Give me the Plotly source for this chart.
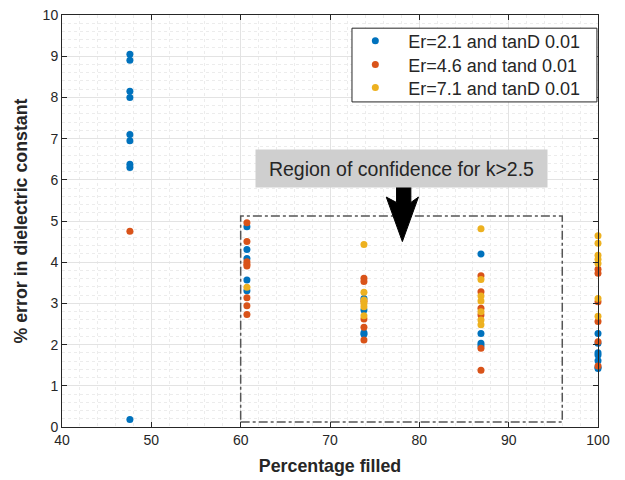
import plotly.graph_objects as go

# Fill levels (percentage filled) where measurements were taken
fill_levels = [47.6, 60.7, 73.8, 86.9, 100.0]
f1, f2, f3, f4, f5 = fill_levels

# % error in dielectric constant per fill level, per material
er21_x = [f1] * 9 + [f2] * 5 + [f3] * 4 + [f4] * 4 + [f5] * 7
er21_y = [9.05, 8.9, 8.15, 8.0, 7.1, 6.95, 6.38, 6.3, 0.18,
          4.86, 4.31, 4.09, 3.57, 3.31,
          3.12, 2.84, 2.29, 2.25,
          4.2, 2.27, 2.03, 1.97,
          2.27, 2.03, 1.8, 1.75, 1.61, 1.45, 1.42]

er46_x = [f1] * 1 + [f2] * 8 + [f3] * 6 + [f4] * 6 + [f5] * 6
er46_y = [4.75,
          4.96, 4.5, 4.01, 3.91, 3.14, 2.94, 2.73, 3.95,
          3.61, 3.53, 3.05, 2.62, 2.42, 2.11,
          3.67, 3.28, 2.88, 2.72, 1.91, 1.38,
          3.83, 3.73, 3.04, 2.56, 2.07, 1.48]

er71_x = [f2] * 1 + [f3] * 6 + [f4] * 7 + [f5] * 7
er71_y = [3.39,
          4.43, 3.27, 3.0, 2.92, 2.7, 3.08,
          4.81, 3.58, 3.18, 3.06, 2.8, 2.6, 2.48,
          4.64, 4.46, 4.17, 4.07, 3.97, 3.12, 2.69]

series = [
    ("Er=2.1 and tanD 0.01", er21_x, er21_y, "#0072BD"),
    ("Er=4.6 and tand 0.01", er46_x, er46_y, "#D95319"),
    ("Er=7.1 and tanD 0.01", er71_x, er71_y, "#EDB120"),
]

FONT = "Liberation Sans, Arial, sans-serif"
TXT = "#262626"

# one legend per series so rows can be spaced like a MATLAB legend
legend_ids = ["legend", "legend2", "legend3"]
legend_rows = [0.937, 0.879, 0.823]

fig = go.Figure()
for (name, xs, ys, col), lid in zip(series, legend_ids):
    fig.add_trace(go.Scatter(
        x=xs, y=ys, mode="markers", name=name, legend=lid,
        cliponaxis=False,
        marker=dict(size=7, color=col, line=dict(width=0)),
    ))

# Dash-dot region of confidence
fig.add_shape(type="rect", x0=60, x1=96, y0=0.12, y1=5.12, xref="x", yref="y",
              line=dict(color="#555555", width=1.5, dash="dashdot"))

# Thick downward arrow pointing into the region
fig.add_shape(type="path", xref="x", yref="y",
              path="M 77.45 5.87 L 79.05 5.87 L 79.05 5.45 L 79.9 5.58 "
                   "L 78.1 4.5 L 76.3 5.58 L 77.45 5.45 Z",
              fillcolor="black", line=dict(color="black", width=1))

# Legend frame
fig.add_shape(type="rect", xref="paper", yref="paper",
              x0=0.541, x1=0.998, y0=0.789, y1=0.968, layer="above",
              fillcolor="white", line=dict(color=TXT, width=1))

fig.add_annotation(x=78.05, y=6.27, xref="x", yref="y",
                   text="Region of confidence for k>2.5", showarrow=False,
                   bgcolor="#cfcfcf", width=291, height=37, align="center",
                   borderpad=0, font=dict(family=FONT, size=19.5, color=TXT))

axis_common = dict(
    showline=True, linecolor=TXT, linewidth=1, mirror="ticks",
    ticks="inside", ticklen=5, tickcolor=TXT,
    showgrid=True, gridcolor="#e3e3e3", gridwidth=1,
    zeroline=False, automargin=False,
    tickfont=dict(family=FONT, size=14, color=TXT),
)

TITLE_FONT = dict(family=FONT, size=17.8, color=TXT)

fig.update_xaxes(
    range=[40, 100], dtick=10, tick0=40,
    title=dict(text="<b>Percentage filled</b>", font=TITLE_FONT, standoff=12),
    minor=dict(dtick=2, showgrid=True, gridcolor="#ececec", griddash="dot", ticks=""),
    **axis_common,
)
fig.update_yaxes(
    range=[0, 10], dtick=1, tick0=0,
    title=dict(text="<b>% error in dielectric constant</b>", font=TITLE_FONT, standoff=10),
    minor=dict(dtick=0.2, showgrid=True, gridcolor="#ececec", griddash="dot", ticks=""),
    **axis_common,
)

legend_style = dict(x=0.523, xanchor="left", yanchor="middle",
                    bgcolor="rgba(0,0,0,0)", borderwidth=0, itemwidth=56,
                    font=dict(family=FONT, size=18, color=TXT))

fig.update_layout(
    width=625, height=480,
    margin=dict(l=62, r=27, t=15, b=53),
    paper_bgcolor="white", plot_bgcolor="white",
    showlegend=True,
    **{lid: dict(y=ry, **legend_style) for lid, ry in zip(legend_ids, legend_rows)},
)

fig.write_html("out.html")
